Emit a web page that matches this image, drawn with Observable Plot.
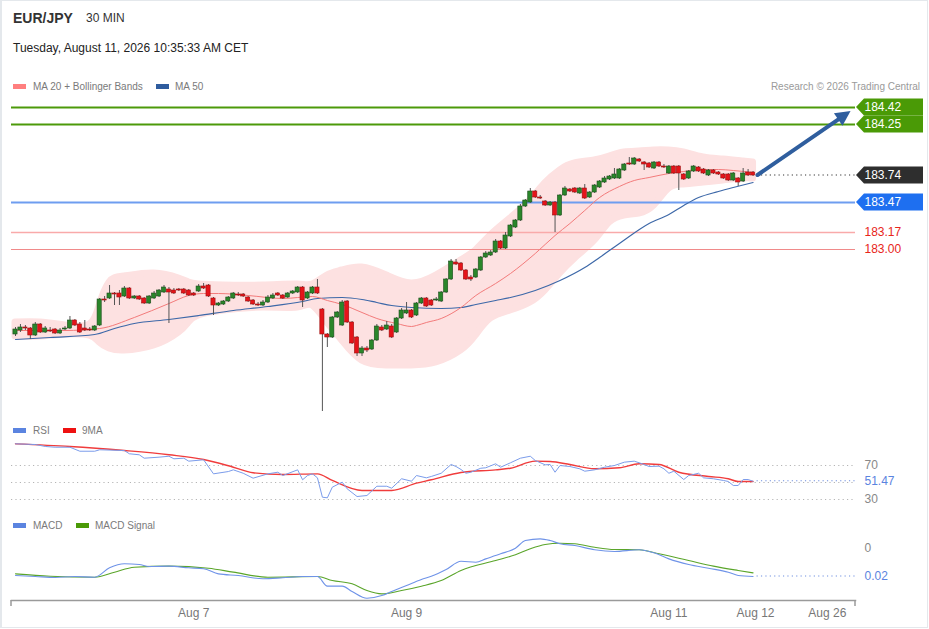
<!DOCTYPE html>
<html>
<head>
<meta charset="utf-8">
<script src="https://cdn.jsdelivr.net/npm/d3@7"></script>
<script src="https://cdn.jsdelivr.net/npm/@observablehq/plot@0.6"></script>
<style>
  html,body{margin:0;padding:0;background:#fff;}
  #wrap{position:relative;width:929px;height:629px;overflow:hidden;font-family:"Liberation Sans",Arial,sans-serif;background:#fff;}
  #border{position:absolute;left:0;top:0;width:925px;height:626px;border:1px solid #e4e8ec;border-left-width:2px;}
  .t{position:absolute;white-space:nowrap;line-height:1;}
  .sw{position:absolute;width:13px;height:5px;}
  .panel{position:absolute;left:0;}
</style>
</head>
<body>
<div id="wrap">
  <div id="border"></div>
  <div class="t" style="left:13px;top:11px;font-size:14px;font-weight:bold;color:#333">EUR/JPY</div>
  <div class="t" style="left:86px;top:12px;font-size:12px;color:#333">30 MIN</div>
  <div class="t" style="left:13px;top:42px;font-size:12px;color:#222">Tuesday, August 11, 2026 10:35:33 AM CET</div>

  <div class="sw" style="left:13px;top:84px;background:#ff7f7f"></div>
  <div class="t" style="left:33px;top:81.5px;font-size:10px;color:#7a7a7a">MA 20 + Bollinger Bands</div>
  <div class="sw" style="left:156px;top:84px;background:#2f5c9e"></div>
  <div class="t" style="left:175px;top:81.5px;font-size:10px;color:#7a7a7a">MA 50</div>
  <div class="t" style="right:9px;top:81.5px;font-size:10px;color:#9a9a9a">Research © 2026 Trading Central</div>

  <div class="sw" style="left:13px;top:428px;background:#5b84e0"></div>
  <div class="t" style="left:33px;top:425.5px;font-size:10px;color:#7a7a7a">RSI</div>
  <div class="sw" style="left:63px;top:428px;background:#ee1111"></div>
  <div class="t" style="left:82px;top:425.5px;font-size:10px;color:#7a7a7a">9MA</div>

  <div class="sw" style="left:13px;top:523px;background:#5b84e0"></div>
  <div class="t" style="left:33px;top:520.5px;font-size:10px;color:#7a7a7a">MACD</div>
  <div class="sw" style="left:76px;top:523px;background:#4a9a06"></div>
  <div class="t" style="left:95px;top:520.5px;font-size:10px;color:#7a7a7a">MACD Signal</div>

  <div id="main" class="panel" style="top:80px"></div>
  <div id="rsi" class="panel" style="top:425px"></div>
  <div id="macd" class="panel" style="top:515px"></div>
</div>
<script>
// ---------------- DATA ----------------
const open = [
182.15,182.19,182.22,182.21,182.14,182.25,182.17,182.19,182.20,182.16,
182.20,182.21,182.29,182.25,182.21,182.20,182.19,182.24,182.50,182.51,
182.56,182.56,182.53,182.61,182.51,182.53,182.51,182.46,182.51,182.53,
182.57,182.60,182.59,182.60,182.60,182.59,182.56,182.58,182.63,182.64,
182.51,182.44,182.45,182.48,182.51,182.55,182.55,182.52,182.49,182.45,
182.44,182.47,182.51,182.56,182.54,182.52,182.56,182.57,182.62,182.51,
182.56,182.62,182.40,182.15,182.12,182.32,182.24,182.48,182.27,182.12,
181.96,182.01,182.00,182.09,182.22,182.20,182.23,182.17,182.31,182.36,
182.39,182.34,182.46,182.51,182.49,182.49,182.48,182.57,182.70,182.87,
182.86,182.79,182.72,182.72,182.79,182.92,182.94,182.97,183.08,183.01,
183.13,183.22,183.29,183.43,183.47,183.58,183.52,183.48,183.44,183.47,
183.34,183.54,183.60,183.61,183.56,183.61,183.52,183.57,183.62,183.67,
183.70,183.71,183.71,183.79,183.86,183.85,183.90,183.87,183.86,183.81,
183.87,183.83,183.76,183.83,183.83,183.75,183.71,183.78,183.82,183.80,
183.74,183.79,183.77,183.75,183.75,183.69,183.71,183.68,183.77,183.77];
const high = [
182.22,182.25,182.24,182.22,182.27,182.26,182.23,182.22,182.21,182.21,
182.23,182.33,182.30,182.27,182.29,182.22,182.24,182.51,182.53,182.64,
182.57,182.59,182.63,182.62,182.54,182.54,182.52,182.54,182.58,182.60,
182.64,182.62,182.61,182.61,182.61,182.60,182.57,182.65,182.66,182.65,
182.52,182.47,182.49,182.53,182.57,182.57,182.56,182.53,182.50,182.47,
182.49,182.54,182.56,182.57,182.55,182.57,182.59,182.63,182.63,182.58,
182.63,182.70,182.41,182.16,182.33,182.38,182.49,182.49,182.28,182.13,
182.03,182.03,182.10,182.25,182.24,182.28,182.25,182.32,182.41,182.47,
182.40,182.47,182.52,182.52,182.50,182.52,182.58,182.71,182.90,182.90,
182.87,182.80,182.74,182.81,182.93,182.98,182.99,183.10,183.09,183.17,
183.25,183.30,183.45,183.50,183.61,183.59,183.54,183.49,183.48,183.48,
183.55,183.63,183.61,183.62,183.62,183.65,183.58,183.65,183.69,183.73,
183.74,183.81,183.81,183.86,183.92,183.92,183.91,183.88,183.87,183.88,
183.88,183.85,183.84,183.84,183.84,183.76,183.79,183.84,183.83,183.81,
183.80,183.80,183.78,183.76,183.76,183.77,183.72,183.81,183.80,183.78];
const low = [
182.13,182.17,182.19,182.10,182.13,182.16,182.16,182.17,182.15,182.15,
182.19,182.20,182.23,182.16,182.18,182.18,182.18,182.23,182.47,182.50,
182.44,182.44,182.52,182.50,182.50,182.49,182.45,182.45,182.50,182.52,
182.56,182.26,182.55,182.58,182.55,182.53,182.53,182.57,182.60,182.52,
182.34,182.43,182.44,182.47,182.50,182.53,182.52,182.47,182.44,182.43,
182.43,182.46,182.50,182.53,182.50,182.51,182.55,182.56,182.42,182.50,
182.55,182.55,181.38,182.02,182.11,182.31,182.23,182.26,182.05,181.93,
181.93,181.97,181.99,182.08,182.18,182.19,182.11,182.16,182.30,182.35,
182.31,182.33,182.45,182.42,182.43,182.48,182.47,182.56,182.69,182.84,
182.78,182.69,182.68,182.71,182.78,182.91,182.93,182.96,183.00,183.00,
183.12,183.21,183.28,183.42,183.46,183.51,183.50,183.43,183.43,183.17,
183.33,183.53,183.57,183.56,183.55,183.50,183.51,183.56,183.61,183.66,
183.69,183.70,183.70,183.78,183.84,183.84,183.87,183.79,183.81,183.80,
183.82,183.81,183.75,183.75,183.59,183.69,183.70,183.77,183.77,183.75,
183.73,183.75,183.74,183.70,183.68,183.68,183.63,183.67,183.73,183.73];
const close = [
182.20,182.22,182.21,182.14,182.25,182.17,182.21,182.18,182.16,182.19,
182.21,182.29,182.24,182.17,182.19,182.19,182.23,182.50,182.49,182.56,
182.55,182.52,182.61,182.51,182.53,182.50,182.46,182.53,182.56,182.59,
182.62,182.57,182.56,182.59,182.56,182.54,182.54,182.63,182.61,182.53,
182.44,182.46,182.48,182.52,182.56,182.54,182.53,182.48,182.45,182.44,
182.47,182.52,182.54,182.54,182.51,182.56,182.58,182.62,182.49,182.57,
182.62,182.56,182.15,182.12,182.32,182.37,182.47,182.27,182.06,181.96,
182.01,181.99,182.09,182.23,182.19,182.24,182.12,182.31,182.39,182.39,
182.32,182.46,182.51,182.43,182.44,182.50,182.57,182.70,182.88,182.85,
182.79,182.70,182.70,182.80,182.92,182.96,182.97,183.08,183.01,183.14,
183.24,183.29,183.43,183.49,183.58,183.52,183.51,183.44,183.47,183.34,
183.54,183.61,183.58,183.57,183.61,183.51,183.57,183.64,183.68,183.71,
183.73,183.75,183.80,183.85,183.85,183.91,183.88,183.85,183.82,183.87,
183.83,183.82,183.83,183.76,183.76,183.70,183.78,183.83,183.78,183.76,
183.79,183.76,183.75,183.71,183.69,183.76,183.67,183.76,183.74,183.74];

// Bollinger bands (read at sample candles)
const bandIdx = [0,5,10,15,17,19,22,28,33,35,37,42,50,57,60,63,66,70,75,80,85,90,93,96,100,104,107,110,113,117,120,123,126,129,132,135,139,143,147,149];
const bandUpper = [
182.27,182.27,182.24,182.25,182.44,182.67,182.73,182.76,182.71,182.67,
182.65,182.64,182.64,182.65,182.65,182.74,182.79,182.82,182.74,182.66,
182.74,182.89,182.99,183.14,183.31,183.49,183.66,183.79,183.86,183.89,
183.93,183.97,183.98,183.99,183.99,183.97,183.92,183.90,183.88,183.87];
const bandLower = [
182.13,182.13,182.15,182.14,182.07,182.01,181.99,182.04,182.17,182.27,
182.34,182.39,182.42,182.42,182.44,182.27,182.09,181.89,181.84,181.84,
181.87,181.99,182.14,182.31,182.39,182.47,182.59,182.76,182.91,183.09,
183.27,183.34,183.36,183.44,183.61,183.65,183.67,183.69,183.71,183.71];

// MA 20
const ma20Idx = [0,10,17,24,31,35,38,41,47,54,60,63,66,70,73,77,80,81,83,86,90,93,97,100,105,109,112,115,118,122,125,128,132,135,138,142,145,149];
const ma20Val = [
182.19,182.19,182.21,182.32,182.46,182.54,182.56,182.56,182.54,182.51,
182.53,182.49,182.45,182.37,182.31,182.26,182.23,182.24,182.27,182.31,
182.42,182.54,182.66,182.76,182.96,183.14,183.26,183.39,183.52,183.63,
183.69,183.72,183.76,183.78,183.80,183.80,183.79,183.77];

// MA 50
const ma50Idx = [0,7,16,20,24,31,37,44,51,58,61,66,70,73,76,80,86,90,93,97,100,105,110,115,118,122,128,132,135,138,142,145,149];
const ma50Val = [
182.10,182.12,182.15,182.21,182.26,182.30,182.34,182.39,182.43,182.48,
182.51,182.52,182.50,182.47,182.44,182.42,182.41,182.42,182.45,182.49,
182.52,182.59,182.69,182.82,182.92,183.06,183.26,183.35,183.44,183.52,
183.58,183.62,183.67];

// Levels
const resistanceLevels = [184.42, 184.25];
const supportLevels = [183.47];
const pivotLevels = [183.17, 183.00];
const lastPrice = 183.74;
const projIdx = [150, 168.8];
const projPrice = [183.74, 184.38];

// RSI
const rsiIdx = [0,4,6,8,11,13,16,17,22,23,25,26,29,31,32,34,35,38,40,43,44,46,48,51,53,54,57,58,59,60,61,62,63,64,66,67,69,71,73,75,76,78,80,81,83,84,86,88,89,90,91,92,94,95,97,98,100,102,104,105,107,108,109,110,112,114,115,117,119,121,123,125,127,128,130,131,132,133,135,136,138,139,141,143,144,145,146,147,148,149];
const rsiVal = [
95.5,94.7,92.4,91.5,91.5,86.8,86.8,88.5,87.6,83.8,
82.6,78.6,79.8,80.9,77.9,78.6,75.1,76.7,60.2,62.9,
64.9,60.9,55.1,60.2,62.1,58.2,64.9,53.2,58.2,60.2,
55.5,32.7,32.0,44.5,50.4,42.6,33.5,34.7,45.6,45.6,
43.3,54.4,51.5,58.2,55.5,57.1,60.9,71.2,68.8,65.3,
60.9,62.1,66.8,67.3,72.0,68.0,73.2,78.6,80.9,75.9,
70.8,71.2,62.1,70.0,68.8,66.1,63.3,64.9,68.0,70.0,
73.9,75.1,71.2,68.8,69.2,66.1,60.9,63.3,53.5,58.2,
60.9,55.5,54.4,52.4,51.2,46.5,46.5,53.5,53.5,51.47];
const rsiMaIdx = [0,11,22,31,38,44,48,54,61,64,70,76,81,84,90,97,100,105,108,112,117,122,126,130,134,140,144,146,149];
const rsiMaVal = [95.5,92.4,87.6,82.6,77.1,68.0,61.4,59.4,60.2,52.4,40.6,40.6,49.2,53.2,61.8,64.9,66.8,75.1,74.7,71.2,66.1,67.3,72.0,71.2,62.1,57.1,54.4,51.2,51.2];
const rsiLevels = [70, 50, 30];
const rsiLabels = [70, 30];

// MACD
const macdIdx = [0,4,8,12,16,19,22,25,27,31,35,38,41,45,50,54,58,61,63,66,68,71,74,76,79,82,84,87,90,93,95,98,101,103,106,108,110,113,117,121,126,129,132,136,140,144,146,149];
const macdVal = [
-0.0193,-0.0200,-0.0207,-0.0200,-0.0205,-0.0138,-0.0109,-0.0114,-0.0129,-0.0126,
-0.0138,-0.0145,-0.0181,-0.0193,-0.0216,-0.0209,-0.0200,-0.0200,-0.0269,-0.0269,
-0.0307,-0.0355,-0.0336,-0.0307,-0.0264,-0.0221,-0.0198,-0.0150,-0.0091,-0.0098,
-0.0074,-0.0038,0.0002,0.0057,0.0069,0.0057,0.0034,0.0021,-0.0009,-0.0021,
-0.0009,-0.0031,-0.0074,-0.0114,-0.0141,-0.0169,-0.0193,-0.0200];
const signalIdx = [0,7,16,20,24,31,39,44,51,61,64,68,71,74,78,82,86,90,97,101,104,107,110,113,117,121,126,130,136,141,146,149];
const signalVal = [-0.0181,-0.0198,-0.0205,-0.0169,-0.0134,-0.0126,-0.0141,-0.0169,-0.0205,-0.0200,-0.0229,-0.0252,-0.0300,-0.0324,-0.0300,-0.0269,-0.0229,-0.0157,-0.0086,-0.0045,-0.0002,0.0029,0.0038,0.0034,0.0009,-0.0007,-0.0009,-0.0038,-0.0086,-0.0126,-0.0157,-0.0174];
const macdZeroLabel = "0";
const macdLastLabel = "0.02";

// X axis ticks
const tickIdx = [36, 79, 132, 149.5, 164];
const tickLabels = ["Aug 7", "Aug 9", "Aug 11", "Aug 12", "Aug 26"];

// ---------------- BUILD ----------------
const candles = open.map((o, i) => ({i, o, h: high[i], l: low[i], c: close[i]}));
const up = candles.filter(d => d.c >= d.o);
const down = candles.filter(d => d.c < d.o);
const band = bandIdx.map((i, k) => ({i, up: bandUpper[k], lo: bandLower[k]}));
const ma20 = ma20Idx.map((i, k) => ({i, v: ma20Val[k]}));
const ma50 = ma50Idx.map((i, k) => ({i, v: ma50Val[k]}));
const rsi = rsiIdx.map((i, k) => ({i, v: rsiVal[k]}));
const rsiMa = rsiMaIdx.map((i, k) => ({i, v: rsiMaVal[k]}));
const macd = macdIdx.map((i, k) => ({i, v: macdVal[k]}));
const signal = signalIdx.map((i, k) => ({i, v: signalVal[k]}));
const lastIdx = close.length - 1;

const FONT = "'Liberation Sans', Arial, sans-serif";
const X = {type: "linear", domain: [0, lastIdx], range: [15, 752.55], axis: null};
const base = {width: 929, marginLeft: 11, marginRight: 74, marginTop: 0,
  style: {background: "transparent", fontFamily: FONT, fontSize: "12px", overflow: "visible"}};
const FRAME_RIGHT = 929 - 74;

function dotted(svg, xv, yv, color) {
  const fx = svg.scale("x").apply(xv) + 4;
  const fy = svg.scale("y").apply(yv);
  d3.select(svg).append("line")
    .attr("x1", fx).attr("x2", FRAME_RIGHT).attr("y1", fy).attr("y2", fy)
    .attr("stroke", color).attr("stroke-width", 1.2).attr("stroke-dasharray", "1.2,3.2");
}
function tag(svg, yv, label, bg) {
  const y = svg.scale("y").apply(yv);
  const x0 = 856, x1 = 923, h = 8.5;
  const g = d3.select(svg).append("g");
  g.append("path").attr("d", `M${x0},${y}L${x0 + 8},${y - h}L${x1},${y - h}L${x1},${y + h}L${x0 + 8},${y + h}Z`).attr("fill", bg);
  g.append("text").attr("x", 864.5).attr("y", y).attr("dy", "0.36em").attr("fill", "#fff")
    .attr("text-anchor", "start").attr("font-size", 12).attr("font-family", FONT).text(label);
}
function arrow(svg, color) {
  const sx = svg.scale("x"), sy = svg.scale("y");
  const ax = sx.apply(projIdx[0]), ay = sy.apply(projPrice[0]);
  const bx = sx.apply(projIdx[1]), by = sy.apply(projPrice[1]);
  const len = Math.hypot(bx - ax, by - ay), ux = (bx - ax) / len, uy = (by - ay) / len;
  const hl = 15, hw = 7.5;
  const cx = bx - ux * hl, cy = by - uy * hl;
  const s = d3.select(svg);
  s.append("line").attr("x1", ax).attr("y1", ay).attr("x2", cx + ux * 2).attr("y2", cy + uy * 2)
    .attr("stroke", color).attr("stroke-width", 4).attr("stroke-linecap", "round");
  s.append("path").attr("d", `M${bx},${by}L${cx - uy * hw},${cy + ux * hw}L${cx + uy * hw},${cy - ux * hw}Z`).attr("fill", color);
}

// Main price panel
const main = Plot.plot({
  ...base, height: 345, marginBottom: 0,
  x: X,
  y: {domain: [181.3, 184.6], range: [339, 9], axis: null},
  marks: [
    Plot.areaY(band, {x: "i", y1: "lo", y2: "up", curve: "natural", fill: "#fde1e1", stroke: "#fde1e1", strokeWidth: 7, strokeLinejoin: "round"}),
    Plot.ruleY(resistanceLevels, {stroke: "#4c9a0a", strokeWidth: 2}),
    Plot.ruleY(supportLevels, {stroke: "#6e9df0", strokeWidth: 2}),
    Plot.ruleY([pivotLevels[0]], {stroke: "#f9aaaa", strokeWidth: 1.5}),
    Plot.ruleY([pivotLevels[1]], {stroke: "#f08a8a", strokeWidth: 1}),
    Plot.line(ma50, {x: "i", y: "v", curve: "monotone-x", stroke: "#3d68a8", strokeWidth: 1.2}),
    Plot.line(ma20, {x: "i", y: "v", curve: "monotone-x", stroke: "#f37b7b", strokeWidth: 1}),
    Plot.ruleX(candles, {x: "i", y1: "l", y2: "h", stroke: "#555", strokeWidth: 1}),
    Plot.rect(up, {x1: d => d.i - 0.42, x2: d => d.i + 0.42, y1: "o", y2: "c", fill: "#2a862a", stroke: "#1d4d1d", strokeWidth: 0.6}),
    Plot.rect(down, {x1: d => d.i - 0.42, x2: d => d.i + 0.42, y1: "o", y2: "c", fill: "#e5141a", stroke: "#9b1010", strokeWidth: 0.6}),
    Plot.text(pivotLevels, {y: d => d, frameAnchor: "right", dx: 9, textAnchor: "start", fill: "#e8251a", fontSize: 12, text: d => d.toFixed(2)})
  ]
});
document.getElementById("main").appendChild(main);
dotted(main, lastIdx, lastPrice, "#333");
arrow(main, "#2f5e9e");
resistanceLevels.forEach(v => tag(main, v, v.toFixed(2), "#4a9a06"));
tag(main, lastPrice, lastPrice.toFixed(2), "#2e2e2e");
supportLevels.forEach(v => tag(main, v, v.toFixed(2), "#1e6ff0"));

// RSI panel
const rsiLast = rsiVal[rsiVal.length - 1];
const rsiPlot = Plot.plot({
  ...base, height: 85, marginBottom: 0,
  x: X,
  y: {domain: [0, 100], range: [99.5, 14.5], axis: null},
  marks: [
    Plot.ruleY(rsiLevels, {stroke: "#b5b5b5", strokeWidth: 1, strokeDasharray: "1.2,3.2"}),
    Plot.line(rsiMa, {x: "i", y: "v", curve: "monotone-x", stroke: "#f03c3c", strokeWidth: 1.4}),
    Plot.line(rsi, {x: "i", y: "v", stroke: "#7b9ceb", strokeWidth: 1}),
    Plot.text(rsiLabels, {y: d => d, frameAnchor: "right", dx: 9, textAnchor: "start", fill: "#888", fontSize: 12, text: d => String(d)}),
    Plot.text([rsiLast], {y: d => d, frameAnchor: "right", dx: 9, textAnchor: "start", fill: "#5b84e0", fontSize: 12, text: d => d.toFixed(2)})
  ]
});
document.getElementById("rsi").appendChild(rsiPlot);
dotted(rsiPlot, lastIdx, rsiLast, "#6f8fe0");

// MACD panel
const macdLast = macdVal[macdVal.length - 1];
const lab = new Map(tickIdx.map((d, k) => [d, tickLabels[k]]));
const macdPlot = Plot.plot({
  ...base, height: 114, marginBottom: 29,
  x: X,
  y: {domain: [-0.04, 0.01], range: [89, 19], axis: null},
  marks: [
    Plot.line(signal, {x: "i", y: "v", curve: "monotone-x", stroke: "#5aa52a", strokeWidth: 1.1}),
    Plot.line(macd, {x: "i", y: "v", curve: "monotone-x", stroke: "#6f93e8", strokeWidth: 1.1}),
    Plot.frame({anchor: "bottom", stroke: "#9a9a9a", strokeWidth: 1.5}),
    Plot.axisX(tickIdx, {tickSize: 0, tickPadding: 8, fontSize: 12, tickFormat: d => lab.get(d), color: "#777", label: null}),
    Plot.text([0], {y: d => d, frameAnchor: "right", dx: 9, textAnchor: "start", fill: "#888", fontSize: 12, text: () => macdZeroLabel}),
    Plot.text([macdLast], {y: d => d, frameAnchor: "right", dx: 9, textAnchor: "start", fill: "#5b84e0", fontSize: 12, text: () => macdLastLabel})
  ]
});
document.getElementById("macd").appendChild(macdPlot);
dotted(macdPlot, lastIdx, macdLast, "#6f8fe0");
{
  const s = d3.select(macdPlot);
  [11, FRAME_RIGHT].forEach(x => s.append("line").attr("x1", x).attr("x2", x).attr("y1", 85).attr("y2", 91)
    .attr("stroke", "#9a9a9a").attr("stroke-width", 1.5));
}
</script>
</body>
</html>
